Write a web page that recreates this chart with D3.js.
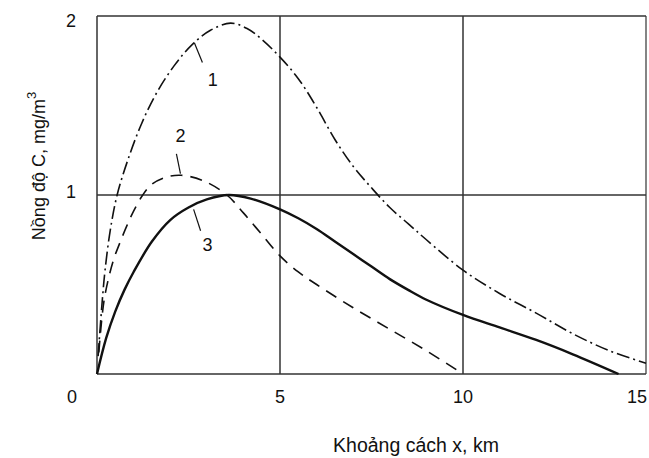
<!DOCTYPE html>
<html>
	<head>
		<meta charset="utf-8">
		<title>Nong do C theo khoang cach</title>
		<style>
			body { margin: 0; background: #fff; }
			text { font-family: "Liberation Sans", Arial, sans-serif; fill: #111; }
			.frame line { stroke: #333; stroke-width: 1.5; }
		</style>
	</head>
<body>
	<div id="chart"></div>
	<script src="https://cdn.jsdelivr.net/npm/d3@7"></script>
	<script type="text/javascript">

	// curve 1 (dash-dot)
	var curve1X = [0.03, 0.14, 0.22, 0.36, 0.55, 0.85, 1.2, 1.6, 2.1, 2.6, 3.1, 3.65, 4.1, 4.5, 5, 5.5, 6, 6.5, 7, 7.5, 8, 8.5, 9, 10, 11, 12, 13, 14, 15];
	var curve1Y = [0.1, 0.4, 0.58, 0.8, 1.0, 1.2, 1.39, 1.56, 1.72, 1.84, 1.92, 1.96, 1.93, 1.87, 1.77, 1.65, 1.49, 1.31, 1.16, 1.04, 0.93, 0.84, 0.75, 0.58, 0.45, 0.34, 0.225, 0.13, 0.06];
	// curve 2 (dashed)
	var curve2X = [0.05, 0.2, 0.44, 0.6, 0.82, 1.0, 1.25, 1.5, 1.9, 2.3, 2.9, 3.55, 4.0, 4.5, 5, 5.5, 6, 7, 8, 9, 10];
	var curve2Y = [0.12, 0.42, 0.63, 0.72, 0.83, 0.91, 1.0, 1.06, 1.1, 1.11, 1.08, 1.0, 0.9, 0.78, 0.66, 0.57, 0.5, 0.37, 0.25, 0.13, 0];
	// curve 3 (solid)
	var curve3X = [0, 0.25, 0.5, 0.75, 1.0, 1.5, 2.0, 2.5, 3.0, 3.6, 4.2, 5, 5.5, 6, 6.5, 7, 7.5, 8, 8.5, 9, 10, 11, 12, 13, 14.25];
	var curve3Y = [0, 0.2, 0.35, 0.47, 0.57, 0.74, 0.86, 0.93, 0.975, 1.0, 0.98, 0.92, 0.87, 0.81, 0.74, 0.67, 0.6, 0.53, 0.47, 0.415, 0.33, 0.26, 0.19, 0.11, 0];

	var xTicks = [0, 5, 10, 15];
	var yTicks = [1, 2];
	var xGrid = [5, 10];
	var yGrid = [1];

	// curve labels: text position and leader line, in data units
	var labelText = ["1", "2", "3"];
	var labelPos = [[3.16, 1.64], [2.28, 1.33], [3.02, 0.72]];
	var leaderFrom = [[2.66, 1.85], [2.17, 1.23], [2.64, 0.92]];
	var leaderTo = [[2.88, 1.74], [2.28, 1.12], [2.83, 0.8]];

	var width = 649,
		height = 458;

	var x = d3.scaleLinear().domain([0, 15]).range([97, 646]);
	var y = d3.scaleLinear().domain([0, 2]).range([374, 16]);

	var svg = d3.select("#chart").append("svg")
		.attr("width", width)
		.attr("height", height);

	// frame + grid
	var frame = svg.append("g").attr("class", "frame");
	frame.selectAll(".vgrid")
		.data(xGrid)
		.enter().append("line")
		.attr("x1", function(d) { return x(d); })
		.attr("x2", function(d) { return x(d); })
		.attr("y1", y(2))
		.attr("y2", y(0));
	frame.selectAll(".hgrid")
		.data(yGrid)
		.enter().append("line")
		.attr("x1", x(0))
		.attr("x2", x(15))
		.attr("y1", function(d) { return y(d); })
		.attr("y2", function(d) { return y(d); });
	frame.append("line").attr("x1", x(0)).attr("x2", x(15)).attr("y1", y(2)).attr("y2", y(2));
	frame.append("line").attr("x1", x(15)).attr("x2", x(15)).attr("y1", y(2)).attr("y2", y(0)).style("stroke-width", 1.2);
	frame.append("line").attr("x1", x(0)).attr("x2", x(0)).attr("y1", y(2)).attr("y2", y(0));
	frame.append("line").attr("x1", x(0)).attr("x2", x(15)).attr("y1", y(0)).attr("y2", y(0));

	// tick labels (0 sits left of the origin, 15 is kept inside the page)
	svg.selectAll(".xlab")
		.data(xTicks)
		.enter().append("text")
		.attr("x", function(d) {
			if (d === 0) return x(d) - 25;
			if (d === 15) return 647;
			return x(d);
		})
		.attr("y", 403)
		.attr("text-anchor", function(d) { return d === 15 ? "end" : "middle"; })
		.style("font-size", "18px")
		.text(function(d) { return d; });

	svg.selectAll(".ylab")
		.data(yTicks)
		.enter().append("text")
		.attr("x", 71)
		.attr("y", function(d) { return Math.max(y(d) + 3, 27); })
		.attr("text-anchor", "middle")
		.style("font-size", "18px")
		.text(function(d) { return d; });

	// axis titles
	svg.append("text")
		.attr("x", 416)
		.attr("y", 452)
		.attr("text-anchor", "middle")
		.style("font-size", "19.5px")
		.text("Khoảng cách x, km");

	var ytitle = svg.append("text")
		.attr("transform", "translate(45,166) rotate(-90)")
		.attr("text-anchor", "middle")
		.style("font-size", "18px");
	ytitle.append("tspan").text("Nồng độ C, mg/m");
	ytitle.append("tspan").attr("dy", -9).style("font-size", "13px").text("3");

	// curves
	var line = d3.line()
		.x(function(d) { return x(d[0]); })
		.y(function(d) { return y(d[1]); })
		.curve(d3.curveCatmullRom.alpha(0.5));

	function pairs(xs, ys) {
		return xs.map(function(v, i) { return [v, ys[i]]; });
	}

	svg.append("path")
		.attr("d", line(pairs(curve1X, curve1Y)))
		.attr("fill", "none")
		.attr("stroke", "#111")
		.attr("stroke-width", 1.6)
		.attr("stroke-dasharray", "13,4,2,4");

	svg.append("path")
		.attr("d", line(pairs(curve2X, curve2Y)))
		.attr("fill", "none")
		.attr("stroke", "#111")
		.attr("stroke-width", 1.6)
		.attr("stroke-dasharray", "12,8");

	svg.append("path")
		.attr("d", line(pairs(curve3X, curve3Y)))
		.attr("fill", "none")
		.attr("stroke", "#111")
		.attr("stroke-width", 2.4);

	// curve labels
	svg.selectAll(".leader")
		.data(labelText)
		.enter().append("line")
		.attr("x1", function(d, i) { return x(leaderFrom[i][0]); })
		.attr("y1", function(d, i) { return y(leaderFrom[i][1]); })
		.attr("x2", function(d, i) { return x(leaderTo[i][0]); })
		.attr("y2", function(d, i) { return y(leaderTo[i][1]); })
		.attr("stroke", "#111")
		.attr("stroke-width", 1.2);

	svg.selectAll(".clab")
		.data(labelText)
		.enter().append("text")
		.attr("x", function(d, i) { return x(labelPos[i][0]); })
		.attr("y", function(d, i) { return y(labelPos[i][1]) + 6; })
		.attr("text-anchor", "middle")
		.style("font-size", "18px")
		.text(function(d) { return d; });

	</script>
</body>
</html>
